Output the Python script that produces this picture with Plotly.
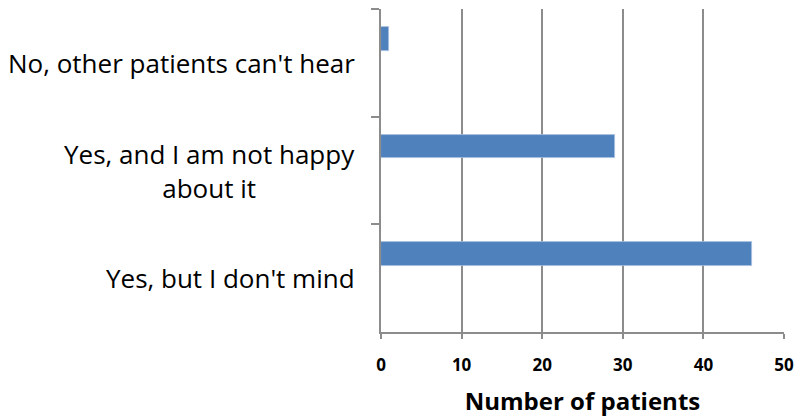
import plotly.graph_objects as go

# categories listed top to bottom as in the chart
answers = ["No, other patients can't hear",
           "Yes, and I am not happy<br>about it",
           "Yes, but I don't mind"]
patients = [1, 29, 46]
x_ticks = [0, 10, 20, 30, 40, 50]

FONT = "Open Sans"
GRID = "#8c8c8c"

fig = go.Figure(
    go.Bar(
        x=patients,
        y=answers,
        orientation="h",
        width=0.218,
        offset=-0.332,  # bar sits in the upper part of each band, like Excel with empty series
        marker=dict(color="#4f81bd", line=dict(color="#a7c0de", width=0.8)),
    )
)

# y labels as annotations so the wrapped one stays centred
for a in answers:
    fig.add_annotation(
        x=0, xref="paper", y=a, yref="y",
        text=a, showarrow=False,
        xanchor="right", yanchor="middle", align="center",
        xshift=-24,
        font=dict(family=FONT, size=26, color="#000000"),
    )

fig.update_layout(
    width=802, height=418,
    margin=dict(l=381, r=18, t=9, b=86),
    paper_bgcolor="white", plot_bgcolor="white",
    showlegend=False,
    bargap=0,
    xaxis=dict(
        range=[0, 50], tickvals=x_ticks,
        automargin=False,
        showgrid=True, gridcolor=GRID, gridwidth=1.5,
        zeroline=False,
        showline=True, linecolor=GRID, linewidth=1.5,
        ticks="outside", ticklen=5, tickcolor=GRID, tickwidth=1.5,
        ticklabelstandoff=12,
        tickfont=dict(family=FONT, size=17, color="#000000", weight="bold"),
        title=dict(text="Number of patients", standoff=18,
                   font=dict(family=FONT, size=24, color="#000000", weight="bold")),
        fixedrange=True,
    ),
    yaxis=dict(
        categoryorder="array", categoryarray=answers,
        range=[2.5, -0.5],
        automargin=False,
        showticklabels=False,
        tickson="boundaries",
        ticks="outside", ticklen=8, tickcolor=GRID, tickwidth=1.5,
        showgrid=False,
        showline=True, linecolor=GRID, linewidth=1.5,
        fixedrange=True,
    ),
)

# drop the browser's default 8px body margin so the chart sits at the page corner
fig.write_html("out.html", config={"displayModeBar": False},
               post_script="document.body.style.margin='0';")
